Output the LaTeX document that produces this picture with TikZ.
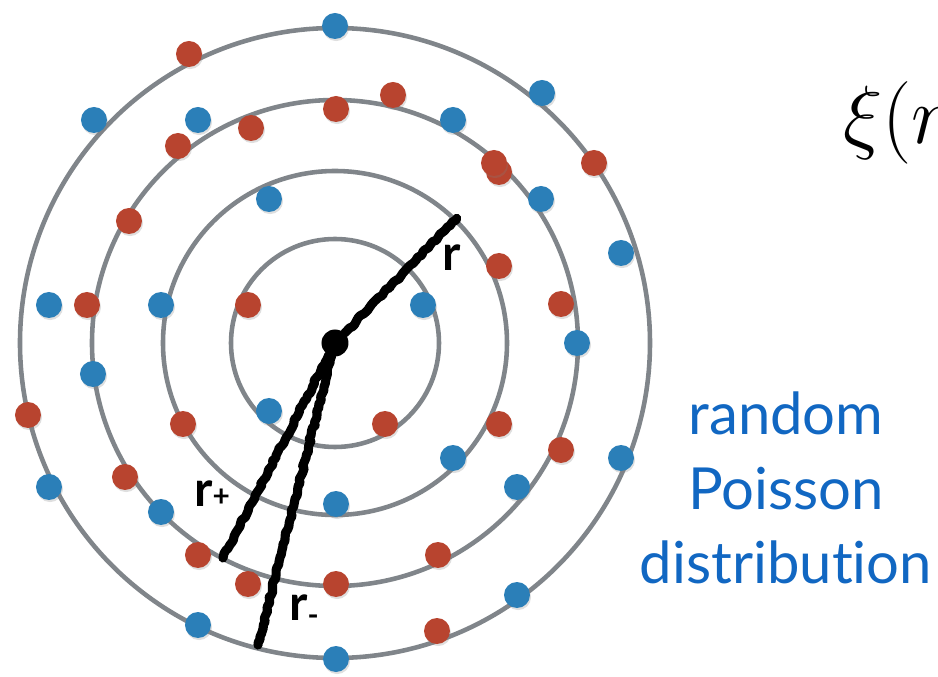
\documentclass[tikz,border=0pt]{standalone}
\usepackage{fix-cm}
\usepackage{fontspec}
\newfontfamily\cfsans[Ligatures=NoCommon]{Lato}
\usetikzlibrary{shadows,decorations.pathmorphing}
\definecolor{cfazul}{HTML}{2B7FB8}
\definecolor{cfvermelho}{HTML}{B8442F}
\definecolor{cfcinza}{HTML}{80858A}
\definecolor{cftexto}{HTML}{1167C2}
\tikzset{
  cfanel/.style={draw=cfcinza, line width=2.6pt},
  cfpontoazul/.style={circle, fill=cfazul, minimum size=5.2mm, inner sep=0pt,
                  drop shadow={shadow xshift=0.6pt, shadow yshift=-1.2pt, opacity=0.25}},
  cfpontoverm/.style={circle, fill=cfvermelho, minimum size=5.2mm, inner sep=0pt,
                  drop shadow={shadow xshift=0.6pt, shadow yshift=-1.2pt, opacity=0.25}},
  cfcentro/.style={circle, fill=black, minimum size=5.4mm, inner sep=0pt},
  cfgiz/.style={draw=black, line width=5.2pt, line cap=round, line join=round, decorate,
                  decoration={random steps, segment length=2pt, amplitude=0.7pt}},
  cfrotulo/.style={font=\cfsans\fontsize{28}{30}\selectfont\bfseries, inner sep=0pt},
  cfnota/.style={font=\cfsans\fontsize{33}{42.4}\selectfont, text=cftexto, align=center},
}
\begin{document}
\begin{tikzpicture}
        \path[use as bounding box, clip] (-6.70,-6.68) rectangle (12.06,6.86);
        % ---------------- aneis ----------------
        \node[cfcentro] (o) at (0,0) {};
        \draw[cfanel] (o) circle (2.08);
        \draw[cfanel] (o) circle (3.44);
        \draw[cfanel] (o) circle (4.86);
        \draw[cfanel] (o) circle (6.30);
        % ---------------- pontos azuis ----------------
        \node[cfpontoazul] (b1) at (0.00,6.34) {};
        \node[cfpontoazul] (b2) at (-4.82,4.46) {};
        \node[cfpontoazul] (b3) at (-2.74,4.46) {};
        \node[cfpontoazul] (b4) at (2.36,4.46) {};
        \node[cfpontoazul] (b5) at (-1.32,2.88) {};
        \node[cfpontoazul] (b6) at (-5.72,0.76) {};
        \node[cfpontoazul] (b7) at (-3.48,0.76) {};
        \node[cfpontoazul] (b8) at (1.76,0.76) {};
        \node[cfpontoazul] (b9) at (4.14,5.00) {};
        \node[cfpontoazul] (b10) at (4.12,2.88) {};
        \node[cfpontoazul] (b11) at (5.72,1.80) {};
        \node[cfpontoazul] (b12) at (4.84,0.00) {};
        \node[cfpontoazul] (b13) at (5.72,-2.30) {};
        \node[cfpontoazul] (b14) at (3.64,-2.88) {};
        \node[cfpontoazul] (b15) at (3.64,-5.04) {};
        \node[cfpontoazul] (b16) at (-4.84,-0.62) {};
        \node[cfpontoazul] (b17) at (-1.32,-1.36) {};
        \node[cfpontoazul] (b18) at (2.36,-2.30) {};
        \node[cfpontoazul] (b19) at (-5.72,-2.88) {};
        \node[cfpontoazul] (b20) at (-3.48,-3.38) {};
        \node[cfpontoazul] (b21) at (0.02,-3.22) {};
        \node[cfpontoazul] (b22) at (-2.74,-5.64) {};
        \node[cfpontoazul] (b23) at (0.02,-6.32) {};
        % ---------------- pontos vermelhos ----------------
        \node[cfpontoverm] (v1) at (-2.92,5.78) {};
        \node[cfpontoverm] (v2) at (-3.14,3.94) {};
        \node[cfpontoverm] (v3) at (-1.68,4.30) {};
        \node[cfpontoverm] (v4) at (0.02,4.68) {};
        \node[cfpontoverm] (v5) at (1.16,4.96) {};
        \node[cfpontoverm] (v6) at (-4.12,2.44) {};
        \node[cfpontoverm] (v7) at (-4.96,0.76) {};
        \node[cfpontoverm] (v8) at (-1.74,0.76) {};
        \node[cfpontoverm] (v9) at (3.28,3.42) {};
        \node[cfpontoverm] (v10) at (3.18,3.60) {};
        \node[cfpontoverm] (v11) at (5.18,3.60) {};
        \node[cfpontoverm] (v12) at (3.28,1.54) {};
        \node[cfpontoverm] (v13) at (4.52,0.78) {};
        \node[cfpontoverm] (v14) at (3.28,-1.62) {};
        \node[cfpontoverm] (v15) at (4.52,-2.14) {};
        \node[cfpontoverm] (v16) at (-6.14,-1.44) {};
        \node[cfpontoverm] (v17) at (-3.04,-1.62) {};
        \node[cfpontoverm] (v18) at (1.00,-1.62) {};
        \node[cfpontoverm] (v19) at (-4.20,-2.68) {};
        \node[cfpontoverm] (v20) at (-2.74,-4.24) {};
        \node[cfpontoverm] (v21) at (-1.74,-4.82) {};
        \node[cfpontoverm] (v22) at (0.02,-4.82) {};
        \node[cfpontoverm] (v23) at (2.06,-4.24) {};
        \node[cfpontoverm] (v24) at (2.04,-5.76) {};
        % ---------------- raios ----------------
        \coordinate (er) at (2.44,2.50);
        \coordinate (ep) at (-2.24,-4.30);
        \coordinate (em) at (-1.54,-6.04);
        \draw[cfgiz] (o) -- (er);
        \draw[cfgiz] (o) -- (ep);
        \draw[cfgiz] (o) -- (em);
        \node[cfrotulo] (lr) at (2.34,1.70) {r};
        \node[cfrotulo] (lp) at (-2.46,-3.02) {r{\fontsize{17}{17}\selectfont +}};
        \node[cfrotulo] (lm) at (-0.62,-5.34) {r{\fontsize{17}{17}\selectfont\raisebox{-3pt}{-}}};
        % ---------------- textos ----------------
        \node[anchor=base west, inner sep=0pt] (xi) at (10.16,3.98) {\fontsize{47}{50}\selectfont$\xi(r$};
        \node[cfnota] (nota) at (9.02,-2.90) {random\\ Poisson\\ distribution};
    \end{tikzpicture}
\end{document}
